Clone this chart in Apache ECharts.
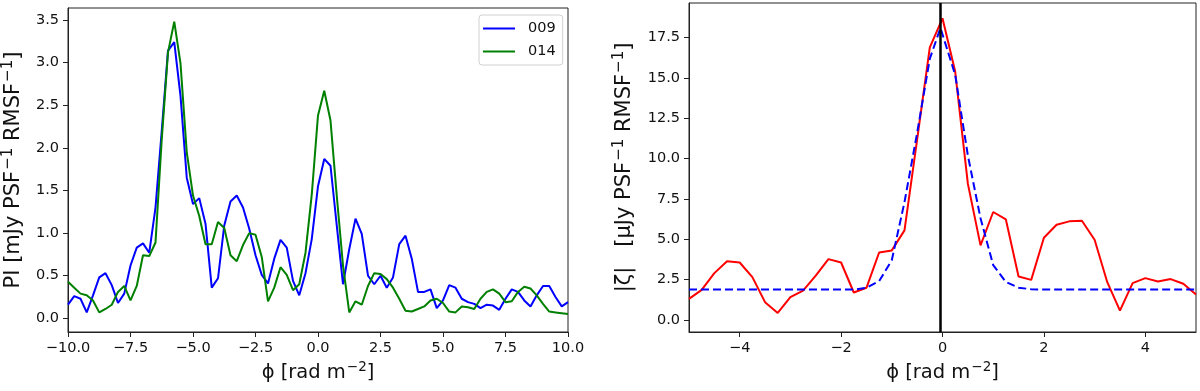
<!DOCTYPE html>
<html>
<head>
<meta charset="utf-8">
<script src="https://cdn.jsdelivr.net/npm/echarts@6/dist/echarts.min.js"></script>
<style>
  html, body { margin: 0; padding: 0; background: #fff; }
  #chart { width: 1200px; height: 391px; }
</style>
</head>
<body>
<div id="chart"></div>
<script>
// left panel: Faraday spectra, sampled every 0.25 rad m^-2 from -10 to 10
var phiLeft = [];
for (var i = 0; i <= 80; i++) phiLeft.push(-10 + i * 0.25);
var pi009 = [0.16, 0.26, 0.23, 0.07, 0.27, 0.48, 0.53, 0.39, 0.18, 0.29,
             0.62, 0.83, 0.88, 0.77, 1.30, 2.20, 3.14, 3.24, 2.61, 1.65,
             1.34, 1.41, 1.11, 0.36, 0.47, 1.09, 1.37, 1.44, 1.30, 1.05,
             0.74, 0.51, 0.41, 0.70, 0.92, 0.83, 0.44, 0.27, 0.53, 0.93,
             1.55, 1.87, 1.79, 1.09, 0.40, 0.81, 1.17, 0.99, 0.50, 0.40,
             0.50, 0.36, 0.48, 0.87, 0.97, 0.70, 0.31, 0.31, 0.34, 0.12,
             0.21, 0.39, 0.36, 0.23, 0.19, 0.17, 0.12, 0.16, 0.15, 0.10,
             0.23, 0.34, 0.31, 0.21, 0.14, 0.27, 0.38, 0.38, 0.25, 0.14, 0.19];
var pi014 = [0.43, 0.36, 0.29, 0.27, 0.21, 0.07, 0.11, 0.16, 0.31, 0.38,
             0.21, 0.38, 0.74, 0.73, 0.89, 2.10, 3.12, 3.48, 2.99, 1.95,
             1.44, 1.20, 0.87, 0.87, 1.13, 1.06, 0.74, 0.67, 0.86, 1.00,
             0.98, 0.72, 0.20, 0.36, 0.60, 0.51, 0.33, 0.40, 0.77, 1.45,
             2.38, 2.67, 2.32, 1.44, 0.62, 0.07, 0.20, 0.16, 0.38, 0.53,
             0.52, 0.46, 0.36, 0.23, 0.09, 0.08, 0.11, 0.14, 0.21, 0.23,
             0.18, 0.08, 0.07, 0.14, 0.13, 0.11, 0.23, 0.31, 0.34, 0.29,
             0.19, 0.20, 0.31, 0.37, 0.35, 0.27, 0.17, 0.08, 0.07, 0.06, 0.05];

// right panel: |zeta| sampled every 0.25 from -5 to 5
var phiRight = [];
for (var j = 0; j <= 40; j++) phiRight.push(-5 + j * 0.25);
var zeta = [1.30, 1.86, 2.90, 3.64, 3.56, 2.65, 1.10, 0.43, 1.41, 1.82,
            2.75, 3.77, 3.56, 1.70, 1.99, 4.18, 4.31, 5.55, 11.2, 16.9,
            18.7, 15.4, 8.45, 4.62, 6.69, 6.23, 2.69, 2.48, 5.09, 5.90,
            6.11, 6.15, 4.97, 2.34, 0.58, 2.28, 2.59, 2.38, 2.53, 2.24, 1.57];
// dashed model curve (x, y)
var modelX = [-5, -4.75, -4.5, -4.25, -4, -3.75, -3.5, -3.25, -3, -2.75, -2.5, -2.25, -2, -1.75,
              -1.5, -1.25, -1, -0.75, -0.5, -0.25, -0.04, 0.25, 0.5, 0.75, 1, 1.25, 1.5, 1.75,
              2, 2.25, 2.5, 2.75, 3, 3.25, 3.5, 3.75, 4, 4.25, 4.5, 4.75, 5];
var modelY = [1.88, 1.88, 1.88, 1.88, 1.88, 1.88, 1.88, 1.88, 1.88, 1.88, 1.88, 1.88, 1.88, 1.88,
              1.99, 2.4, 3.7, 7.3, 11.6, 16.2, 18.1, 15.2, 10.2, 6.3, 3.4, 2.35, 2.0, 1.9,
              1.88, 1.88, 1.88, 1.88, 1.88, 1.88, 1.88, 1.88, 1.88, 1.88, 1.88, 1.88, 1.88];
var peakPhi = -0.04;

var leftYTicks = [0, 0.5, 1, 1.5, 2, 2.5, 3, 3.5];
var rightYTicks = [0, 2.5, 5, 7.5, 10, 12.5, 15, 17.5];
var rightXTicks = [-4, -2, 0, 2, 4];

function pairs(xs, ys) {
  return xs.map(function (x, k) { return [x, ys[k]]; });
}
function minus(s) { return String(s).replace('-', '\u2212'); }

var FONT = 'DejaVu Sans';
var tickLabel = { color: '#111', fontSize: 14.5, fontFamily: FONT, margin: 9 };
var nameStyle = {
  color: '#111', fontSize: 19.5, fontFamily: FONT,
  rich: { s: { fontSize: 13.5, fontFamily: FONT, color: '#111', padding: [0, 0, 10, 1] } }
};
var nameStyleY = {
  color: '#111', fontSize: 21, fontFamily: FONT,
  rich: { s: { fontSize: 15, fontFamily: FONT, color: '#111', padding: [0, 0, 10, 1] } }
};
var axisLine = { show: true, onZero: false, lineStyle: { color: '#222', width: 1 } };
var axisTick = { show: true, inside: false, length: 5, lineStyle: { color: '#222' } };

var chart = echarts.init(document.getElementById('chart'));
chart.setOption({
  animation: false,
  backgroundColor: '#fff',
  grid: [
    { left: 67, right: 632, top: 8, bottom: 59, show: true, borderColor: '#222', borderWidth: 1 },
    { left: 689, right: 4, top: 3, bottom: 59, show: true, borderColor: '#222', borderWidth: 1 }
  ],
  legend: {
    left: 479, top: 15, orient: 'vertical',
    data: ['009', '014'],
    icon: 'rect', itemWidth: 32, itemHeight: 2, itemGap: 6,
    textStyle: { fontSize: 14.5, fontFamily: FONT, color: '#111', lineHeight: 17, padding: [0, 0, 0, 8] },
    borderColor: '#d0d0d0', borderWidth: 1, borderRadius: 3,
    padding: [5, 7, 5, 4], backgroundColor: '#fff'
  },
  xAxis: [
    {
      gridIndex: 0, type: 'value', min: -10, max: 10, interval: 2.5,
      axisLine: axisLine, axisTick: axisTick, splitLine: { show: false },
      axisLabel: Object.assign({ formatter: function (v) { return minus(v.toFixed(1)); } }, tickLabel),
      name: '\u03d5 [rad m{s|\u22122}]', nameLocation: 'middle', nameGap: 28, nameTextStyle: nameStyle
    },
    {
      gridIndex: 1, type: 'value', min: -5, max: 5,
      axisLine: axisLine, splitLine: { show: false },
      axisTick: Object.assign({ customValues: rightXTicks }, axisTick),
      axisLabel: Object.assign({ customValues: rightXTicks, formatter: function (v) { return minus(v); } }, tickLabel),
      name: '\u03d5 [rad m{s|\u22122}]', nameLocation: 'middle', nameGap: 28, nameTextStyle: nameStyle
    }
  ],
  yAxis: [
    {
      gridIndex: 0, type: 'value', min: -0.16, max: 3.64,
      axisLine: axisLine, splitLine: { show: false },
      axisTick: Object.assign({ customValues: leftYTicks }, axisTick),
      axisLabel: Object.assign({ customValues: leftYTicks, formatter: function (v) { return v.toFixed(1); } }, tickLabel),
      name: 'PI [mJy PSF{s|\u22121} RMSF{s|\u22121}]', nameLocation: 'middle', nameRotate: 90,
      nameGap: 42, nameTextStyle: nameStyleY
    },
    {
      gridIndex: 1, type: 'value', min: -0.75, max: 19.65,
      axisLine: axisLine, splitLine: { show: false },
      axisTick: Object.assign({ customValues: rightYTicks }, axisTick),
      axisLabel: Object.assign({ customValues: rightYTicks, formatter: function (v) { return v.toFixed(1); } }, tickLabel),
      name: '|\u03b6|   [\u03bcJy PSF{s|\u22121} RMSF{s|\u22121}]', nameLocation: 'middle', nameRotate: 90,
      nameGap: 52, nameTextStyle: nameStyleY
    }
  ],
  series: [
    {
      name: '009', type: 'line', xAxisIndex: 0, yAxisIndex: 0, symbol: 'none',
      data: pairs(phiLeft, pi009), color: '#0000ff',
      lineStyle: { color: '#0000ff', width: 2 }
    },
    {
      name: '014', type: 'line', xAxisIndex: 0, yAxisIndex: 0, symbol: 'none',
      data: pairs(phiLeft, pi014), color: '#008000',
      lineStyle: { color: '#008000', width: 2 }
    },
    {
      name: 'zeta', type: 'line', xAxisIndex: 1, yAxisIndex: 1, symbol: 'none',
      data: pairs(phiRight, zeta),
      lineStyle: { color: '#ff0000', width: 2 },
      markLine: {
        silent: true, symbol: 'none', label: { show: false },
        lineStyle: { color: '#000', width: 2.5, type: 'solid' },
        data: [{ xAxis: peakPhi }]
      }
    },
    {
      name: 'model', type: 'line', xAxisIndex: 1, yAxisIndex: 1, symbol: 'none',
      data: pairs(modelX, modelY),
      lineStyle: { color: '#0000ff', width: 2, type: [8, 4] }
    }
  ]
});
</script>
</body>
</html>
